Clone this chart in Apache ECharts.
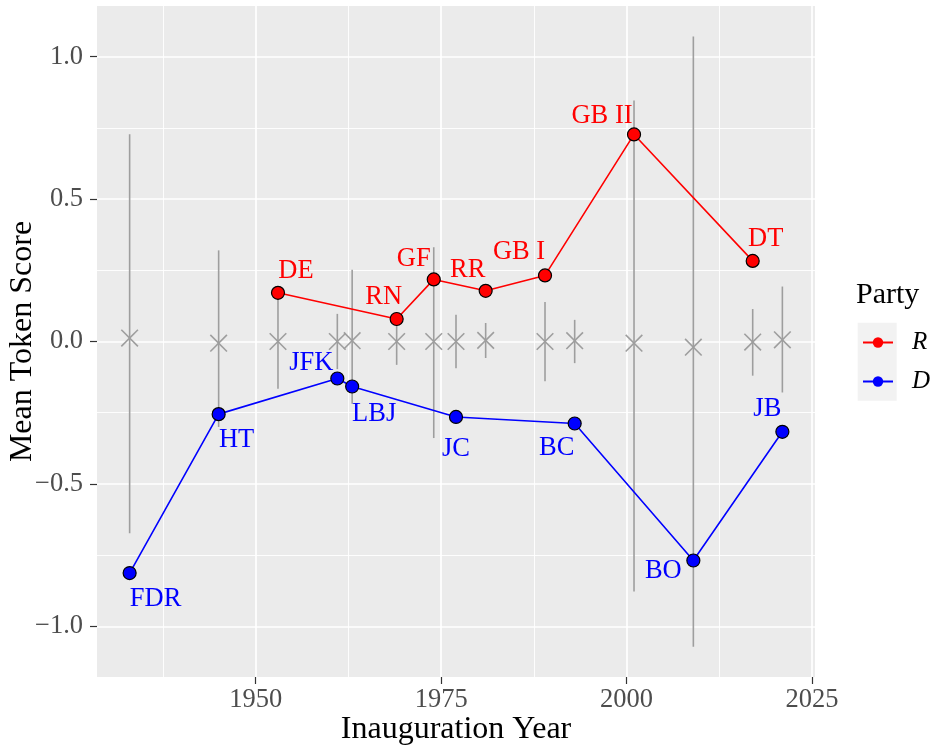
<!DOCTYPE html>
<html>
<head>
<meta charset="utf-8">
<script src="https://cdn.jsdelivr.net/npm/echarts@6/dist/echarts.min.js"></script>
<style>
html,body{margin:0;padding:0;background:#fff;}
#chart{width:932px;height:746px;}
</style>
</head>
<body>
<div id="chart"></div>
<script>
// ---------- data ----------
const presidents = ['FDR','HT','DE','JFK','LBJ','RN','GF','JC','RR','GB I','BC','GB II','BO','DT','JB'];
const years      = [1933, 1945, 1953, 1961, 1963, 1969, 1974, 1977, 1981, 1989, 1993, 2001, 2009, 2017, 2021];
const parties    = ['D','D','R','D','D','R','R','D','R','R','D','R','D','R','D'];
const meanScore  = [-0.813,-0.255,0.171,-0.130,-0.158,0.079,0.218,-0.265,0.178,0.232,-0.288,0.727,-0.769,0.283,-0.317];
const nullMean   = [0.012,-0.006,0.000,0.000,0.003,0.000,0.000,0.000,0.004,0.000,0.003,-0.006,-0.020,-0.002,0.006];
const nullLow    = [-0.673,-0.300,-0.166,-0.097,-0.219,-0.082,-0.339,-0.094,-0.058,-0.140,-0.076,-0.878,-1.072,-0.120,-0.179];
const nullHigh   = [0.728,0.320,0.166,0.097,0.252,0.082,0.331,0.094,0.065,0.139,0.076,0.846,1.071,0.114,0.193];
const partyOrder = ['R','D'];
const xTicks     = [1950, 1975, 2000, 2025];
const xMinor     = [1937.5, 1962.5, 1987.5, 2012.5];
const yTicks     = [-1.0, -0.5, 0.0, 0.5, 1.0];
const yMinor     = [-0.75, -0.25, 0.25, 0.75];
const xRange     = [1928.6, 2025.4];
const yRange     = [-1.178, 1.178];

// ---------- style ----------
const FONT = '"Liberation Serif", "DejaVu Serif", serif';
const partyColors = {R:'#ff0000', D:'#0000ff'};
const GREY = '#9e9e9e';
const labelOffsets = {
  'FDR':[26,26], 'HT':[18,26], 'DE':[18,-22], 'JFK':[-26,-15], 'LBJ':[22,28],
  'RN':[-13,-22], 'GF':[-20,-20], 'JC':[0,32], 'RR':[-18,-21], 'GB I':[-26,-23],
  'BC':[-18,25], 'GB II':[-32,-18], 'BO':[-30,11], 'DT':[13,-22], 'JB':[-15,-23]
};

const fmtY = v => (v < 0 ? '\u2212' : '') + Math.abs(v).toFixed(1);
const fmtX = v => String(Math.round(v));

const nullData = years.map((y,i)=>[y, nullLow[i], nullHigh[i], nullMean[i]]);

function partySeries(p){
  const data = [];
  years.forEach((y,i)=>{
    if (parties[i] !== p) return;
    data.push({
      value:[y, meanScore[i]],
      name: presidents[i],
      label:{offset: labelOffsets[presidents[i]]}
    });
  });
  return {
    type:'line', name:p, data, z:5,
    symbol:'circle', symbolSize:13,
    itemStyle:{color:partyColors[p], borderColor:'#000', borderWidth:1.2},
    lineStyle:{color:partyColors[p], width:1.6},
    label:{show:true, position:'inside', formatter:'{b}', color:partyColors[p],
           fontFamily:FONT, fontSize:26.5, align:'center', verticalAlign:'middle'},
    emphasis:{disabled:true},
    animation:false
  };
}

const chart = echarts.init(document.getElementById('chart'), null, {renderer:'canvas'});

const axisCommonX = {type:'value', min:xRange[0], max:xRange[1], gridIndex:0};
const axisCommonY = {type:'value', min:yRange[0], max:yRange[1], gridIndex:0};

chart.setOption({
  backgroundColor:'#ffffff',
  animation:false,
  title:{text:'Party', left:856, top:280, padding:0,
         textStyle:{fontFamily:FONT, fontSize:30, fontWeight:'normal', color:'#000'}},
  legend:{
    data:partyOrder, orient:'vertical', left:862, top:330,
    itemWidth:30, itemHeight:13, itemGap:14, padding:0,
    textStyle:{fontFamily:FONT, fontSize:25, fontStyle:'italic', color:'#000', padding:[0,0,0,14]},
    itemStyle:{borderWidth:0},
    selectedMode:false
  },
  graphic:[{type:'rect', left:857.7, top:322.7, shape:{width:39, height:78},
            style:{fill:'#f2f2f2'}, z:0, silent:true}],
  grid:{left:97, top:6, right:117, bottom:69, show:true, backgroundColor:'#ebebeb', borderWidth:0,
        containLabel:false, outerBoundsMode:'none'},
  xAxis:[
    Object.assign({}, axisCommonX, {
      position:'bottom',
      name:'Inauguration Year', nameLocation:'middle', nameGap:37, nameMoveOverlap:false,
      nameTextStyle:{fontFamily:FONT, fontSize:32, color:'#000'},
      axisLine:{show:false, onZero:false},
      axisTick:{show:true, length:7, customValues:xTicks, lineStyle:{color:'#333', width:1.2}},
      axisLabel:{show:true, customValues:xTicks, margin:10, fontFamily:FONT, fontSize:26.5, color:'#4d4d4d', formatter:fmtX},
      splitLine:{show:true, lineStyle:{color:'#ffffff', width:1.7}},
      z:1
    }),
    Object.assign({}, axisCommonX, {
      position:'top',
      axisLine:{show:false, onZero:false},
      axisTick:{show:false, customValues:xMinor},
      axisLabel:{show:false, customValues:xMinor},
      splitLine:{show:true, lineStyle:{color:'#ffffff', width:0.9}},
      z:0
    })
  ],
  yAxis:[
    Object.assign({}, axisCommonY, {
      position:'left',
      name:'Mean Token Score', nameLocation:'middle', nameGap:58, nameMoveOverlap:false,
      nameTextStyle:{fontFamily:FONT, fontSize:32, color:'#000'},
      axisLine:{show:false, onZero:false},
      axisTick:{show:true, length:7, customValues:yTicks, lineStyle:{color:'#333', width:1.2}},
      axisLabel:{show:true, customValues:yTicks, margin:14, fontFamily:FONT, fontSize:26.5, color:'#4d4d4d', formatter:fmtY},
      splitLine:{show:true, lineStyle:{color:'#ffffff', width:1.7}},
      z:1
    }),
    Object.assign({}, axisCommonY, {
      position:'right',
      axisLine:{show:false, onZero:false},
      axisTick:{show:false, customValues:yMinor},
      axisLabel:{show:false, customValues:yMinor},
      splitLine:{show:true, lineStyle:{color:'#ffffff', width:0.9}},
      z:0
    })
  ],
  series:[
    {
      type:'custom', name:'null', data:nullData, z:2,
      xAxisIndex:0, yAxisIndex:0,
      encode:{x:0, y:[1,2,3]},
      renderItem:function(params, api){
        const x = api.value(0);
        const pLo = api.coord([x, api.value(1)]);
        const pHi = api.coord([x, api.value(2)]);
        const pM  = api.coord([x, api.value(3)]);
        const s = 8.3;
        const st = {stroke:GREY, lineWidth:1.6};
        return {type:'group', children:[
          {type:'line', shape:{x1:pLo[0], y1:pLo[1], x2:pHi[0], y2:pHi[1]}, style:st},
          {type:'line', shape:{x1:pM[0]-s, y1:pM[1]-s, x2:pM[0]+s, y2:pM[1]+s}, style:st},
          {type:'line', shape:{x1:pM[0]-s, y1:pM[1]+s, x2:pM[0]+s, y2:pM[1]-s}, style:st}
        ]};
      },
      silent:true, animation:false
    },
    partySeries('R'),
    partySeries('D')
  ]
});
</script>
</body>
</html>
